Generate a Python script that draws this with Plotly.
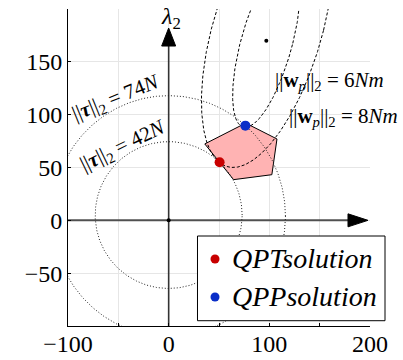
import numpy as np
import plotly.graph_objects as go

# ---------------- data ----------------
x_tick_vals = [-100, -50, 0, 50, 100, 150, 200]
x_tick_text = ["−100", "", "0", "", "100", "", "200"]
y_tick_vals = [-100, -50, 0, 50, 100, 150, 200]
y_tick_text = ["", "−50", "0", "50", "100", "150", ""]

# feasible polygon (vertices)
poly_x = [35.9, 76.5, 107.6, 102.5, 64.5]
poly_y = [72.3, 92.0, 77.0, 43.2, 38.5]

# solutions
qpt_x, qpt_y = [50.6], [54.9]
qpp_x, qpp_y = [76.2], [89.6]
opt_x, opt_y = [97.0], [170.0]
origin_x, origin_y = [0.0], [0.0]

# torque level sets ||tau||_2 (axis-aligned ellipses)
tau_labels = ["42", "74"]
tau_cx = [0.0, 0.0]
tau_cy = [5.0, 4.0]
tau_rx = [73.0, 116.0]
tau_ry = [69.5, 114.0]

# wrench level sets ||w_p||_2 (sheared ellipses)
wp_labels = ["6", "8"]
wp_cx = [97.1, 98.0]
wp_cy = [167.5, 180.0]
wp_halfwidth = [26.2, 55.9]
wp_halfheight = [79.5, 130.0]
wp_shear = [0.264, 0.262]

SERIF = "Liberation Serif"

fig = go.Figure()

# polygon
fig.add_trace(go.Scatter(
    x=poly_x + poly_x[:1], y=poly_y + poly_y[:1], mode="lines", fill="toself",
    fillcolor="#FFB3B3", line=dict(color="black", width=1), showlegend=False,
    hoverinfo="skip"))

theta = np.linspace(0, 2 * np.pi, 721)

# torque ellipses (dotted)
for cx, cy, rx, ry in zip(tau_cx, tau_cy, tau_rx, tau_ry):
    fig.add_trace(go.Scatter(
        x=cx + rx * np.cos(theta), y=cy + ry * np.sin(theta), mode="lines",
        line=dict(color="#222222", width=1, dash="1px,2px"), showlegend=False,
        hoverinfo="skip"))

# wrench ellipses (dashed)
for cx, cy, w, h, m in zip(wp_cx, wp_cy, wp_halfwidth, wp_halfheight, wp_shear):
    dy = h * np.sin(theta)
    ex = cx + m * dy + w * np.cos(theta)
    ey = cy + dy
    fig.add_trace(go.Scatter(
        x=ex, y=ey, mode="lines",
        line=dict(color="black", width=1, dash="3px,2px"), showlegend=False,
        hoverinfo="skip"))

# points
fig.add_trace(go.Scatter(x=origin_x, y=origin_y, mode="markers",
                         marker=dict(color="black", size=4), showlegend=False))
fig.add_trace(go.Scatter(x=opt_x, y=opt_y, mode="markers",
                         marker=dict(color="black", size=4), showlegend=False))
fig.add_trace(go.Scatter(x=qpt_x, y=qpt_y, mode="markers",
                         marker=dict(color="#C80000", size=10), showlegend=False))
fig.add_trace(go.Scatter(x=qpp_x, y=qpp_y, mode="markers",
                         marker=dict(color="#0A2EC8", size=10), showlegend=False))

shapes = []
# axis arrows lines
shapes.append(dict(type="line", xref="x", yref="y", x0=-100, x1=180, y0=0, y1=0,
                   line=dict(color="#505050", width=2), layer="between"))
shapes.append(dict(type="line", xref="x", yref="y", x0=0, x1=0, y0=-100, y1=166,
                   line=dict(color="#333333", width=1.6), layer="between"))
# arrow heads (pixel-sized, anchored at tip)
shapes.append(dict(type="path", xref="x", yref="y", xsizemode="pixel", ysizemode="pixel",
                   xanchor=198, yanchor=0, path="M -20,-6.5 L 0,0 L -20,6.5 Z",
                   fillcolor="black", line=dict(color="black", width=1), layer="above"))
shapes.append(dict(type="path", xref="x", yref="y", xsizemode="pixel", ysizemode="pixel",
                   xanchor=0, yanchor=182, path="M -7,-18 L 0,0 L 7,-18 Z",
                   fillcolor="black", line=dict(color="black", width=1), layer="above"))

# manual legend
shapes.append(dict(type="rect", xref="paper", yref="paper", x0=0.4288, x1=1.0497,
                   y0=0.0167, y1=0.2839, fillcolor="white",
                   line=dict(color="black", width=1), layer="above"))
leg_y = [0.2114, 0.0915]
leg_col = ["#C80000", "#0A2EC8"]
leg_txt = ["<i>QPTsolution</i>", "<i>QPPsolution</i>"]
for yy, cc in zip(leg_y, leg_col):
    shapes.append(dict(type="circle", xref="paper", yref="paper", xsizemode="pixel",
                       ysizemode="pixel", xanchor=0.4868, yanchor=yy, x0=-4.5, x1=4.5,
                       y0=-4.5, y1=4.5, fillcolor=cc, line=dict(width=0), layer="above"))

ann = []
for yy, tt in zip(leg_y, leg_txt):
    ann.append(dict(xref="paper", yref="paper", x=0.5364, y=yy, text=tt, showarrow=False,
                    xanchor="left", yanchor="middle", font=dict(family=SERIF, size=28, color="black")))

tau_pos = [(-45.3, 70.3, -26), (-52.0, 115.6, -22)]
for lab, (xx, yy, ang) in zip(tau_labels, tau_pos):
    ann.append(dict(x=xx, y=yy, xref="x", yref="y", showarrow=False, textangle=ang,
                    text="||<b><i>τ</i></b>||<sub>2</sub> = " + lab + "<i>N</i>",
                    font=dict(family=SERIF, size=21, color="black")))

wp_pos = [(159.8, 131.6), (173.5, 98.0)]
for lab, (xx, yy) in zip(wp_labels, wp_pos):
    ann.append(dict(x=xx, y=yy, xref="x", yref="y", showarrow=False,
                    text="||<b>w</b><sub><i>p</i></sub>||<sub>2</sub> = " + lab + "<i>Nm</i>",
                    font=dict(family=SERIF, size=21, color="black")))

ann.append(dict(x=2, y=191.5, xref="x", yref="y", showarrow=False,
                text="<i>λ</i><sub>2</sub>", font=dict(family=SERIF, size=24, color="black")))
ann.append(dict(x=213.6, y=-1, xref="x", yref="y", showarrow=False,
                text="<i>λ</i><sub>1</sub>", font=dict(family=SERIF, size=24, color="black")))

fig.update_layout(
    width=403, height=360,
    margin=dict(l=68, r=33, t=9, b=34, autoexpand=False),
    paper_bgcolor="white", plot_bgcolor="white",
    font=dict(family=SERIF),
    shapes=shapes, annotations=ann, showlegend=False,
    xaxis=dict(range=[-100, 200], tickmode="array", tickvals=x_tick_vals, ticktext=x_tick_text,
               automargin=False, ticklabelstandoff=-4,
               showgrid=True, gridcolor="#E6E6E6", gridwidth=1, zeroline=False,
               showline=True, linecolor="black", linewidth=1, ticks="inside", ticklen=3,
               tickcolor="black", tickfont=dict(family=SERIF, size=24, color="black")),
    yaxis=dict(range=[-100, 200], tickmode="array", tickvals=y_tick_vals, ticktext=y_tick_text,
               automargin=False,
               showgrid=True, gridcolor="#E6E6E6", gridwidth=1, zeroline=False,
               showline=True, linecolor="black", linewidth=1, ticks="inside", ticklen=3,
               tickcolor="black", tickfont=dict(family=SERIF, size=24, color="black")),
)

fig.write_html("out.html")
